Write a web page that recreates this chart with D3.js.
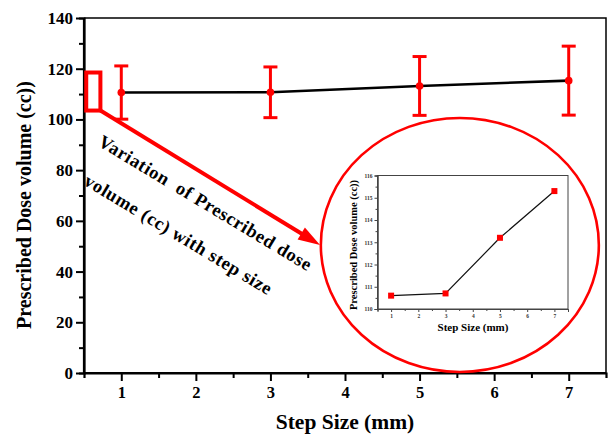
<!DOCTYPE html>
<html>
<head>
<meta charset="utf-8">
<script src="https://cdn.jsdelivr.net/npm/d3@7"></script>
<style>
  body { margin: 0; background: #fff; }
  text { font-family: "Liberation Serif", "Times New Roman", serif; font-weight: bold; }
</style>
</head>
<body>
<div id="chart"></div>
<script>
// data
const steps = [1, 3, 5, 7]
const volumes = [110.6, 110.7, 113.2, 115.3]
const errors = [10.5, 10, 11.6, 13.6]
const yTicks = [0, 20, 40, 60, 80, 100, 120, 140]
const yMinor = [10, 30, 50, 70, 90, 110, 130]
const xTicks = [1, 2, 3, 4, 5, 6, 7]
const xMinor = [1.5, 2.5, 3.5, 4.5, 5.5, 6.5]
const insetYTicks = [110, 111, 112, 113, 114, 115, 116]
const insetYMinor = [110.5, 111.5, 112.5, 113.5, 114.5, 115.5]

const W = 608, H = 437
const fmt = d3.format('d')
const svg = d3.select('#chart').append('svg').attr('width', W).attr('height', H)

const x = d3.scaleLinear().domain([0.5, 7.5]).range([84, 606])
const y = d3.scaleLinear().domain([0, 140]).range([373, 18])

// frame (top + right)
svg.append('path')
  .attr('d', `M${x(0.5)},${y(140)}H${x(7.5)}V${y(0)}`)
  .attr('fill', 'none').attr('stroke', '#000').attr('stroke-width', 1.5)

// minor ticks
svg.append('g').attr('transform', `translate(${x(0.5)},0)`)
  .call(d3.axisLeft(y).tickValues(yMinor).tickSize(5).tickFormat(''))
svg.append('g').attr('transform', `translate(0,${y(0)})`)
  .call(d3.axisBottom(x).tickValues(xMinor).tickSize(5).tickFormat(''))

const yAxis = svg.append('g').attr('transform', `translate(${x(0.5)},0)`)
  .call(d3.axisLeft(y).tickValues(yTicks).tickFormat(fmt).tickSize(8).tickPadding(3))
const xAxis = svg.append('g').attr('transform', `translate(0,${y(0)})`)
  .call(d3.axisBottom(x).tickValues(xTicks).tickFormat(fmt).tickSize(8).tickPadding(5))

svg.selectAll('.domain').attr('stroke-width', 2.2)
svg.selectAll('.tick line').attr('stroke-width', 2)
yAxis.selectAll('text').style('font-size', '17px').style('font-family', 'Liberation Serif').style('font-weight', 'bold')
xAxis.selectAll('text').style('font-size', '16.5px').style('font-family', 'Liberation Serif').style('font-weight', 'bold')
yAxis.select('.domain').attr('d', `M0,${y(140)}V${y(0)}`)
xAxis.select('.domain').attr('d', `M${x(0.5)},0H${x(7.5)}`)

svg.append('text')
  .attr('transform', `translate(31,205) rotate(-90)`)
  .attr('text-anchor', 'middle')
  .style('font-size', '20px')
  .text('Prescribed Dose volume (cc))')

svg.append('text')
  .attr('x', 345).attr('y', 429)
  .attr('text-anchor', 'middle')
  .style('font-size', '21.5px')
  .text('Step Size (mm)')

// ---- main series
const pts = steps.map((s, i) => [s, volumes[i], errors[i]])

svg.append('path')
  .datum(pts)
  .attr('d', d3.line().x(d => x(d[0])).y(d => y(d[1])))
  .attr('fill', 'none').attr('stroke', '#000').attr('stroke-width', 2.6)

const eb = svg.append('g').attr('stroke', '#ff0000').attr('stroke-width', 3)
pts.forEach(d => {
  eb.append('line').attr('x1', x(d[0])).attr('x2', x(d[0]))
    .attr('y1', y(d[1] - d[2])).attr('y2', y(d[1] + d[2]))
  ;[d[1] - d[2], d[1] + d[2]].forEach(v => {
    eb.append('line').attr('x1', x(d[0]) - 7).attr('x2', x(d[0]) + 7)
      .attr('y1', y(v)).attr('y2', y(v))
  })
})
svg.selectAll('.dot').data(pts).enter().append('circle')
  .attr('cx', d => x(d[0])).attr('cy', d => y(d[1])).attr('r', 3.8)
  .attr('fill', '#ff0000')

// ---- annotation: highlight box, arrow, ellipse
const red = '#ff0000'
svg.append('rect')
  .attr('x', x(0.53)).attr('y', y(118.5))
  .attr('width', x(0.72) - x(0.53)).attr('height', y(103.5) - y(118.5))
  .attr('fill', 'none').attr('stroke', red).attr('stroke-width', 4)

const a0 = [x(0.72), y(103.5)], a1 = [x(3.665), y(50.5)]
const ang = Math.atan2(a1[1] - a0[1], a1[0] - a0[0])
const hl = 22, hw = 7
const base = [a1[0] - hl * Math.cos(ang), a1[1] - hl * Math.sin(ang)]
svg.append('line')
  .attr('x1', a0[0]).attr('y1', a0[1])
  .attr('x2', base[0] + 2 * Math.cos(ang)).attr('y2', base[1] + 2 * Math.sin(ang))
  .attr('stroke', red).attr('stroke-width', 4)
svg.append('path')
  .attr('d', `M${a1[0]},${a1[1]}L${base[0] - hw * Math.sin(ang)},${base[1] + hw * Math.cos(ang)}L${base[0] + hw * Math.sin(ang)},${base[1] - hw * Math.cos(ang)}Z`)
  .attr('fill', red)

svg.append('ellipse')
  .attr('cx', x(5.54)).attr('cy', y(50.5)).attr('rx', 139).attr('ry', 127)
  .attr('fill', 'none').attr('stroke', red).attr('stroke-width', 2.6)

const note = svg.append('g').attr('transform', 'translate(97,145) rotate(31)')
note.append('text').attr('x', 0).attr('y', 0)
  .style('font-size', '18.5px').style('letter-spacing', '0.6px')
  .text('Variation\u00a0 of Prescribed dose')
note.append('text').attr('x', 8).attr('y', 41)
  .style('font-size', '18.5px').style('letter-spacing', '0.6px')
  .text('volume (cc) with step size')

// ---- inset
const ix = d3.scaleLinear().domain([0.5, 7.5]).range([377.5, 568])
const iy = d3.scaleLinear().domain([110, 116]).range([309, 175.5])

const inset = svg.append('g')
inset.append('rect')
  .attr('x', ix(0.5)).attr('y', iy(116))
  .attr('width', ix(7.5) - ix(0.5)).attr('height', iy(110) - iy(116))
  .attr('fill', 'none').attr('stroke', '#444').attr('stroke-width', 1)

inset.append('g').attr('transform', `translate(${ix(0.5)},0)`)
  .call(d3.axisLeft(iy).tickValues(insetYTicks).tickFormat(fmt).tickSize(3).tickPadding(2))
inset.append('g').attr('transform', `translate(${ix(0.5)},0)`)
  .call(d3.axisLeft(iy).tickValues(insetYMinor).tickSize(2).tickFormat(''))
inset.append('g').attr('transform', `translate(0,${iy(110)})`)
  .call(d3.axisBottom(ix).tickValues(xTicks).tickFormat(fmt).tickSize(3).tickPadding(2))
inset.append('g').attr('transform', `translate(0,${iy(110)})`)
  .call(d3.axisBottom(ix).tickValues(xMinor).tickSize(2).tickFormat(''))
inset.selectAll('.domain').attr('stroke', '#444')
inset.selectAll('.tick line').attr('stroke', '#444')
inset.selectAll('.tick text').style('font-size', '5.5px').style('font-family', 'Liberation Serif').style('font-weight', 'bold').attr('fill', '#333')

inset.append('text')
  .attr('transform', `translate(357,245) rotate(-90)`)
  .attr('text-anchor', 'middle')
  .style('font-size', '10.5px')
  .text('Prescribed Dose volume (cc))')
inset.append('text')
  .attr('x', 473).attr('y', 331)
  .attr('text-anchor', 'middle')
  .style('font-size', '11px')
  .text('Step Size (mm)')

inset.append('path')
  .datum(steps.map((s, i) => [s, volumes[i]]))
  .attr('d', d3.line().x(d => ix(d[0])).y(d => iy(d[1])))
  .attr('fill', 'none').attr('stroke', '#111').attr('stroke-width', 1.2)
inset.selectAll('.sq').data(steps.map((s, i) => [s, volumes[i]])).enter().append('rect')
  .attr('x', d => ix(d[0]) - 3).attr('y', d => iy(d[1]) - 3)
  .attr('width', 6).attr('height', 6).attr('fill', red)
</script>
</body>
</html>
